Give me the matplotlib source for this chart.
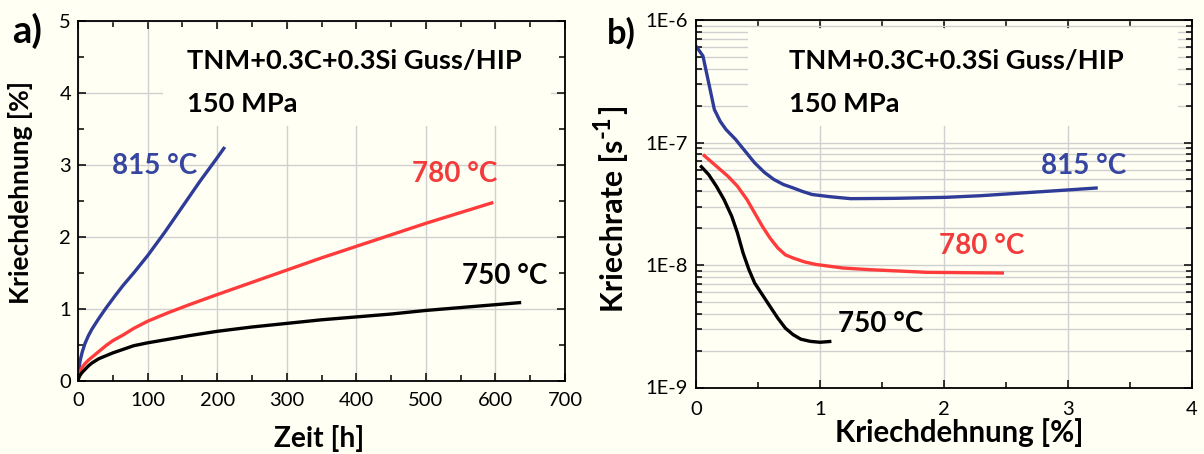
import matplotlib
matplotlib.use("Agg")
import matplotlib.pyplot as plt
from matplotlib.patches import Rectangle
from matplotlib.ticker import MultipleLocator, FixedLocator, FixedFormatter, LogLocator, NullFormatter

plt.rcParams['font.family'] = ['Lato', 'DejaVu Sans']

# ---------------- data ----------------
# Panel a: creep strain [%] vs time [h]
t_815 = [0, 1, 3, 6, 10, 15, 20, 30, 40, 53, 65, 80, 100, 125, 150, 175, 200, 211]
e_815 = [0, 0.15, 0.28, 0.40, 0.52, 0.63, 0.72, 0.87, 1.01, 1.18, 1.33, 1.50, 1.74, 2.07, 2.42, 2.77, 3.10, 3.25]
t_780 = [0, 1, 3, 6, 10, 15, 20, 30, 40, 50, 65, 80, 100, 130, 160, 200, 250, 300, 350, 400, 450, 500, 550, 597]
e_780 = [0, 0.07, 0.13, 0.19, 0.24, 0.29, 0.33, 0.41, 0.49, 0.56, 0.64, 0.73, 0.83, 0.95, 1.06, 1.20, 1.37, 1.54,
         1.71, 1.87, 2.03, 2.19, 2.34, 2.48]
t_750 = [0, 1, 3, 6, 10, 15, 20, 30, 40, 50, 65, 80, 100, 130, 160, 200, 250, 300, 350, 400, 450, 500, 550, 600, 637]
e_750 = [0, 0.04, 0.08, 0.12, 0.16, 0.21, 0.25, 0.31, 0.35, 0.39, 0.44, 0.49, 0.53, 0.58, 0.63, 0.69, 0.75, 0.80,
         0.85, 0.89, 0.93, 0.98, 1.02, 1.06, 1.09]

# Panel b: creep rate [1/s] vs creep strain [%]
s_815 = [0.0, 0.056, 0.102, 0.148, 0.195, 0.241, 0.319, 0.396, 0.473, 0.551, 0.628, 0.705, 0.783, 0.86, 0.937,
         1.092, 1.247, 1.6, 2.02, 2.3, 2.64, 3.0, 3.24]
r_815 = [6.13e-7, 5.08e-7, 3.08e-7, 1.86e-7, 1.49e-7, 1.28e-7, 1.06e-7, 8.5e-8, 6.82e-8, 5.71e-8, 4.99e-8, 4.54e-8,
         4.26e-8, 3.98e-8, 3.76e-8, 3.6e-8, 3.48e-8, 3.50e-8, 3.57e-8, 3.68e-8, 3.88e-8, 4.10e-8, 4.26e-8]
s_780 = [0.056, 0.164, 0.257, 0.334, 0.411, 0.473, 0.535, 0.597, 0.659, 0.721, 0.783, 0.875, 0.968, 1.185, 1.40,
         1.865, 2.484]
r_780 = [7.98e-8, 6.41e-8, 5.31e-8, 4.40e-8, 3.42e-8, 2.66e-8, 2.07e-8, 1.66e-8, 1.38e-8, 1.21e-8, 1.14e-8, 1.06e-8,
         1.01e-8, 9.45e-9, 9.16e-9, 8.71e-9, 8.6e-9]
s_750 = [0.034, 0.102, 0.164, 0.226, 0.288, 0.334, 0.38, 0.427, 0.473, 0.535, 0.597, 0.659, 0.721, 0.783, 0.845,
         0.922, 1.0, 1.092]
r_750 = [6.49e-8, 5.47e-8, 4.40e-8, 3.42e-8, 2.50e-8, 1.83e-8, 1.25e-8, 9.16e-9, 7.13e-9, 5.72e-9, 4.59e-9, 3.69e-9,
         3.05e-9, 2.70e-9, 2.48e-9, 2.38e-9, 2.34e-9, 2.38e-9]

temp_labels = ["815 °C", "780 °C", "750 °C"]
b_yticks = [1e-9, 1e-8, 1e-7, 1e-6]
b_yticklabels = ["1E-9", "1E-8", "1E-7", "1E-6"]
title_text = "TNM+0.3C+0.3Si Guss/HIP"
stress_text = "150 MPa"

# ---------------- style ----------------
BG = '#FFFFF4'
BLUE = '#2E3C98'
RED = '#FF3B3B'
BLUE_T = '#3545A0'
RED_T = '#F23C3C'
GRID = '#D0D0D0'
LW = 2.4

fig = plt.figure(figsize=(12.04, 4.54), dpi=100, facecolor=BG)
W, H = 1204, 454


def axes_px(x0, x1, ytop, ybot):
    return fig.add_axes([x0 / W, 1 - ybot / H, (x1 - x0) / W, (ybot - ytop) / H])


def ftext(x, y, s, **kw):
    return fig.text(x / W, 1 - y / H, s, **kw)


axa = axes_px(78, 565, 21, 381)
axb = axes_px(696, 1192, 20, 387.5)

for ax in (axa, axb):
    ax.set_facecolor(BG)
    ax.set_axisbelow(True)
    for sp in ax.spines.values():
        sp.set_linewidth(1.3)
        sp.set_zorder(5)
    ax.tick_params(which='both', direction='in', top=True, right=True, width=1.1,
                   labelsize=14.5, colors='black')
    ax.tick_params(which='major', length=6)
    ax.tick_params(which='minor', length=4)
axa.tick_params(axis='x', pad=8)
axa.tick_params(axis='y', pad=5)
axb.tick_params(axis='x', pad=10)
axb.tick_params(axis='y', pad=6)

lkw = dict(lw=LW, zorder=3, solid_joinstyle='round', solid_capstyle='butt')

# ---- panel a ----
axa.plot(t_815, e_815, color=BLUE, **lkw)
axa.plot(t_780, e_780, color=RED, **lkw)
axa.plot(t_750, e_750, color='black', **lkw)
axa.set_xlim(0, 700)
axa.set_ylim(0, 5)
axa.xaxis.set_major_locator(MultipleLocator(100))
axa.xaxis.set_minor_locator(MultipleLocator(50))
axa.yaxis.set_major_locator(MultipleLocator(1))
axa.yaxis.set_minor_locator(MultipleLocator(0.5))
axa.grid(True, which='major', color=GRID, lw=1.0)
axa.add_patch(Rectangle(((163 - 78) / 487, (381 - 126) / 360), (551 - 163) / 487, (126 - 29) / 360,
                        transform=axa.transAxes, facecolor=BG, edgecolor='none', zorder=1))

# ---- panel b ----
axb.plot(s_815, r_815, color=BLUE, **lkw)
axb.plot(s_780, r_780, color=RED, **lkw)
axb.plot(s_750, r_750, color='black', **lkw)
axb.set_yscale('log')
axb.set_xlim(0, 4)
axb.set_ylim(1e-9, 1e-6)
axb.xaxis.set_major_locator(MultipleLocator(1))
axb.xaxis.set_minor_locator(MultipleLocator(0.5))
axb.yaxis.set_major_locator(FixedLocator(b_yticks))
axb.yaxis.set_major_formatter(FixedFormatter(b_yticklabels))
axb.yaxis.set_minor_locator(LogLocator(base=10, subs=range(2, 10)))
axb.yaxis.set_minor_formatter(NullFormatter())
axb.grid(True, which='major', axis='x', color=GRID, lw=1.0)
axb.grid(True, which='both', axis='y', color=GRID, lw=1.0)
axb.add_patch(Rectangle(((748 - 696) / 496, (387.5 - 126) / 367.5), (1178 - 748) / 496, (126 - 29) / 367.5,
                        transform=axb.transAxes, facecolor=BG, edgecolor='none', zorder=1))

# ---- texts (positions in pixels, sizes fitted to target pixel lengths) ----
bold = dict(fontweight='bold')
texts = []  # (artist, target_len_px, rotated, followers)

for x0 in (187, 789):
    t1 = ftext(x0, 69.3, title_text, fontsize=20, va='baseline', ha='left', **bold)
    t2 = ftext(x0, 111.7, stress_text, fontsize=20, va='baseline', ha='left', **bold)
    texts.append((t1, 335, False, [t2]))

temp_pos_a = [(112, 173.6, BLUE_T), (411.5, 182, RED_T), (461.5, 283.7, 'black')]
temp_pos_b = [(1041, 174, BLUE_T), (939, 254, RED_T), (838, 332, 'black')]
for pos in (temp_pos_a, temp_pos_b):
    arts = [ftext(x, y, lab, color=c, fontsize=20, va='baseline', ha='left', **bold)
            for (x, y, c), lab in zip(pos, temp_labels)]
    texts.append((arts[0], 85, False, arts[1:]))

texts.append((ftext(319, 439, "Zeit [h]", fontsize=20, ha='center', va='center', **bold), 90, False, []))
texts.append((ftext(21, 192.5, "Kriechdehnung [%]", fontsize=20, rotation=90, ha='center', va='center', **bold),
              223, True, []))
texts.append((ftext(959.5, 433, "Kriechdehnung [%]", fontsize=20, ha='center', va='center', **bold), 250, False, []))

# y label of panel b, built from pieces so the superscript can be large and bold
XB = 622.5   # baseline x (pixels) of the rotated label
yl_main = ftext(XB, 312, "Kriechrate [s", fontsize=20, rotation=90, rotation_mode='anchor',
                ha='left', va='baseline', **bold)
texts.append((yl_main, 172, True, []))

texts.append((ftext(27.5, 31, "a)", fontsize=26, ha='center', va='center', **bold), 30, False, []))
texts.append((ftext(621, 33, "b)", fontsize=26, ha='center', va='center', **bold), 29, False, []))

fig.canvas.draw()
renderer = fig.canvas.get_renderer()
for art, target, rotated, followers in texts:
    bb = art.get_window_extent(renderer)
    length = bb.height if rotated else bb.width
    size = art.get_fontsize() * target / length
    art.set_fontsize(size)
    for f in followers:
        f.set_fontsize(size)

fig.canvas.draw()
main_size = yl_main.get_fontsize()
bb = yl_main.get_window_extent(renderer)
em_px = main_size * 100 / 72
sup = fig.text((XB - 0.42 * em_px) / W, (bb.y1 + 2) / H, "-1", fontsize=main_size * 0.78, rotation=90,
               rotation_mode='anchor', ha='left', va='baseline', **bold)
fig.canvas.draw()
bb2 = sup.get_window_extent(renderer)
fig.text(XB / W, (bb2.y1 + 1) / H, "]", fontsize=main_size, rotation=90,
         rotation_mode='anchor', ha='left', va='baseline', **bold)

fig.savefig("out.png", dpi=100, facecolor=BG)
